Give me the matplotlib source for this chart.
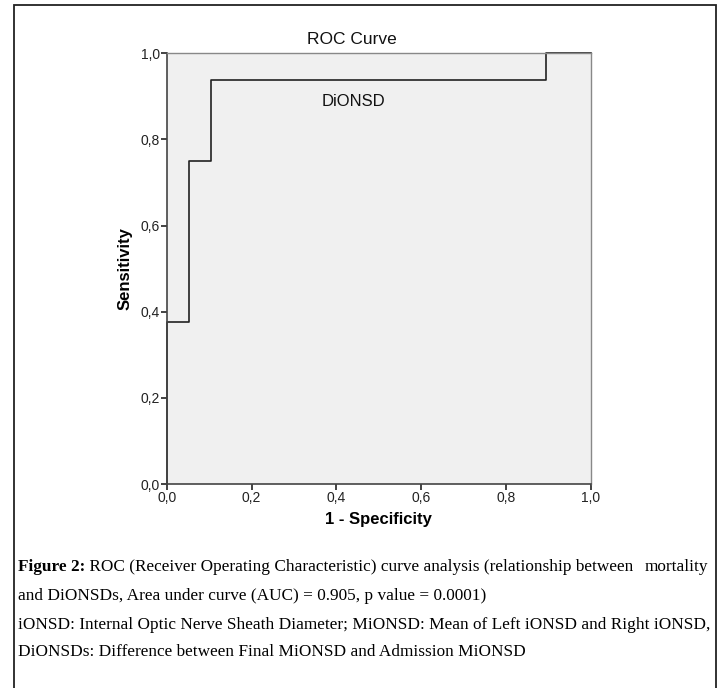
import matplotlib
matplotlib.use('Agg')
import matplotlib.pyplot as plt
from matplotlib.patches import Rectangle

# ROC step curve (1 - specificity, sensitivity)
fpr = [0.0, 0.0, 0.0526, 0.0526, 0.1053, 0.1053, 0.8947, 0.8947, 1.0]
tpr = [0.0, 0.375, 0.375, 0.75, 0.75, 0.9375, 0.9375, 1.0, 1.0]
ticks = [0.0, 0.2, 0.4, 0.6, 0.8, 1.0]
tick_labels = ['0,0', '0,2', '0,4', '0,6', '0,8', '1,0']

caption_bold = 'Figure 2:'
caption_1 = ' ROC (Receiver Operating Characteristic) curve analysis (relationship between'
caption_1_end = 'mortality'
caption_2 = 'and DiONSDs, Area under curve (AUC) = 0.905, p value = 0.0001)'
caption_3 = 'iONSD: Internal Optic Nerve Sheath Diameter; MiONSD: Mean of Left iONSD and Right iONSD,'
caption_4 = 'DiONSDs: Difference between Final MiONSD and Admission MiONSD'

W, H = 724, 688
fig = plt.figure(figsize=(W / 100, H / 100), dpi=100)

# outer frame of the figure box
fig.patches.append(Rectangle((14 / W, -0.05), 702 / W, 1.05 - 5 / H,
                             transform=fig.transFigure, fill=False,
                             edgecolor='#222222', linewidth=1.3))

ax = fig.add_axes([166.7 / W, 1 - 484 / H, 424 / W, 430.7 / H])
ax.set_facecolor('#f0f0f0')
ax.plot(fpr, tpr, color='#222222', linewidth=1.2, clip_on=False)
ax.set_xlim(0, 1)
ax.set_ylim(0, 1)
ax.set_xticks(ticks)
ax.set_yticks(ticks)
ax.set_xticklabels(tick_labels, family='Liberation Sans', fontsize=10, color='#222222')
ax.set_yticklabels(tick_labels, family='Liberation Sans', fontsize=10, color='#222222')
ax.tick_params(direction='out', length=4, width=1.2, color='#222222', pad=1)
for s in ['top', 'right']:
    ax.spines[s].set_color('#888888')
    ax.spines[s].set_linewidth(1.0)
for s in ['bottom', 'left']:
    ax.spines[s].set_color('#444444')
    ax.spines[s].set_linewidth(1.2)

ax.set_xlabel('1 - Specificity', family='Liberation Sans', fontsize=12, fontweight='bold', labelpad=5)
ax.set_ylabel('Sensitivity', family='Liberation Sans', fontsize=12, fontweight='bold', labelpad=6)
ax.text(0.44, 0.888, 'DiONSD', family='Liberation Sans', fontsize=12, ha='center', va='center',
        color='#111111')
fig.text(352 / W, 1 - 40 / H, 'ROC Curve', family='Liberation Sans', fontsize=12.5,
         ha='center', va='center', color='#111111')

# caption below the chart
cap = dict(family='Liberation Serif', fontsize=12.4, va='baseline', color='black')
y1 = 1 - 571 / H
t0 = fig.text(18 / W, y1, caption_bold, fontweight='bold', **cap)
fig.canvas.draw()
x = t0.get_window_extent(fig.canvas.get_renderer()).x1
fig.text(x / W, y1, caption_1, **cap)
fig.text(708 / W, y1, caption_1_end, ha='right', **cap)
fig.text(18 / W, 1 - 600 / H, caption_2, **cap)
fig.text(18 / W, 1 - 629 / H, caption_3, **cap)
fig.text(18 / W, 1 - 656 / H, caption_4, **cap)

fig.savefig('out.png', dpi=100)
